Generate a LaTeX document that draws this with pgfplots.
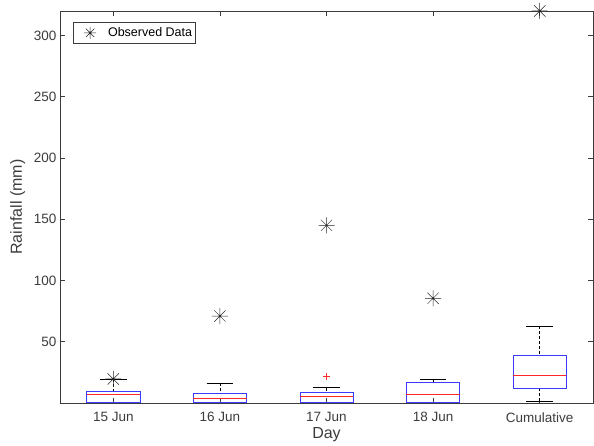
\documentclass[border=0pt]{standalone}
\usepackage{pgfplots}
\pgfplotsset{compat=1.18}
\usepgfplotslibrary{statistics}
\usepackage{fontspec}
\setmainfont{Liberation Sans}

\definecolor{axisgray}{RGB}{60,60,60}
\definecolor{boxblue}{RGB}{60,60,255}
\definecolor{medred}{RGB}{255,40,40}

% eight-ray asterisk (plus and cross combined)
\pgfdeclareplotmark{ast8}{%
  \pgfpathmoveto{\pgfqpoint{-\pgfplotmarksize}{0pt}}%
  \pgfpathlineto{\pgfqpoint{\pgfplotmarksize}{0pt}}%
  \pgfpathmoveto{\pgfqpoint{0pt}{-\pgfplotmarksize}}%
  \pgfpathlineto{\pgfqpoint{0pt}{\pgfplotmarksize}}%
  \pgfpathmoveto{\pgfqpoint{-0.707\pgfplotmarksize}{-0.707\pgfplotmarksize}}%
  \pgfpathlineto{\pgfqpoint{0.707\pgfplotmarksize}{0.707\pgfplotmarksize}}%
  \pgfpathmoveto{\pgfqpoint{-0.707\pgfplotmarksize}{0.707\pgfplotmarksize}}%
  \pgfpathlineto{\pgfqpoint{0.707\pgfplotmarksize}{-0.707\pgfplotmarksize}}%
  \pgfusepathqstroke}

\pgfplotsset{
  obslegend/.style={
    legend image code/.code={%
      \draw[##1, mark size=6pt] plot coordinates {(0.55cm,0cm)};
      \path (0cm,0cm) (1.1cm,0cm);}},
  rainbox/.style={
    /pgfplots/boxplot/draw direction=y,
    /pgfplots/boxplot/box extend=0.5,
    /pgfplots/boxplot/whisker extend=0.25,
    /pgfplots/boxplot/every box/.style={draw=boxblue, line width=0.6pt, fill=none},
    /pgfplots/boxplot/every median/.style={draw=medred, line width=0.7pt},
    /pgfplots/boxplot/draw/lower whisker/.code={%
      \draw[black, densely dashed, line width=0.5pt]
        (boxplot box cs:\pgfplotsboxplotvalue{lower whisker},0.5) --
        (boxplot box cs:\pgfplotsboxplotvalue{lower quartile},0.5);
      \draw[black, line width=0.6pt]
        (boxplot whisker cs:\pgfplotsboxplotvalue{lower whisker},0) --
        (boxplot whisker cs:\pgfplotsboxplotvalue{lower whisker},1);
    },
    /pgfplots/boxplot/draw/upper whisker/.code={%
      \draw[black, densely dashed, line width=0.5pt]
        (boxplot box cs:\pgfplotsboxplotvalue{upper whisker},0.5) --
        (boxplot box cs:\pgfplotsboxplotvalue{upper quartile},0.5);
      \draw[black, line width=0.6pt]
        (boxplot whisker cs:\pgfplotsboxplotvalue{upper whisker},0) --
        (boxplot whisker cs:\pgfplotsboxplotvalue{upper whisker},1);
    },
    mark=none,
    forget plot,
  },
}

\begin{document}
\begin{tikzpicture}
\begin{axis}[
  scale only axis,
  width=533pt, height=392pt,
  xmin=0.5, xmax=5.5, ymin=0, ymax=320,
  xtick={1,2,3,4,5},
  xticklabels={15 Jun,16 Jun,17 Jun,18 Jun,Cumulative},
  ytick={50,100,150,200,250,300},
  tick align=inside,
  major tick length=5pt,
  axis line style={axisgray, line width=0.5pt},
  tick style={axisgray, line width=0.5pt},
  ticklabel style={font=\fontsize{13.5}{16}\selectfont, text=axisgray},
  xticklabel style={yshift=-6pt},
  /pgf/number format/assume math mode=true,
  xlabel={Day}, ylabel={Rainfall (mm)},
  label style={font=\fontsize{16}{19}\selectfont, text=axisgray},
  xlabel style={yshift=2pt},
  ylabel style={yshift=2pt},
  clip=false,
  legend style={at={(0,1)}, anchor=north west, xshift=12.5pt, yshift=-11.5pt,
    draw=axisgray, line width=0.5pt, font=\fontsize{12.5}{15}\selectfont,
    inner xsep=1.5pt, inner ysep=2.8pt, row sep=0pt},
  legend cell align=left,
]
% boxes: lower whisker, lower quartile, median, upper quartile, upper whisker
\addplot[rainbox, boxplot prepared={draw position=1,
  lower whisker=0.3, lower quartile=0.8, median=7.1, upper quartile=9.8, upper whisker=19.6}]
  coordinates {};
\addplot[rainbox, boxplot prepared={draw position=2,
  lower whisker=0.3, lower quartile=0.8, median=3.8, upper quartile=7.9, upper whisker=16.0}]
  coordinates {};
\addplot[rainbox, boxplot prepared={draw position=3,
  lower whisker=0.3, lower quartile=0.8, median=5.5, upper quartile=9.0, upper whisker=12.5}]
  coordinates {};
\addplot[rainbox, boxplot prepared={draw position=4,
  lower whisker=0.3, lower quartile=0.8, median=7.1, upper quartile=17.0, upper whisker=19.6}]
  coordinates {};
\addplot[rainbox, boxplot prepared={draw position=5,
  lower whisker=1.4, lower quartile=12.0, median=22.3, upper quartile=38.6, upper whisker=63.0}]
  coordinates {};
% outlier
\addplot[only marks, mark=+, mark size=3.5pt, medred, line width=0.5pt, forget plot]
  coordinates {(3,22)};
% observed totals
\addplot[only marks, mark=ast8, mark size=8pt, black!85, line width=0.5pt, obslegend]
  coordinates {(1,19.6) (2,71) (3,145) (4,85.5) (5,320)};
\addlegendentry{Observed Data}
\end{axis}
\pgfresetboundingbox
\path ([shift={(-60pt,-43pt)}]current axis.south west)
  rectangle ([shift={(1pt,11pt)}]current axis.north east);
\end{tikzpicture}
\end{document}
